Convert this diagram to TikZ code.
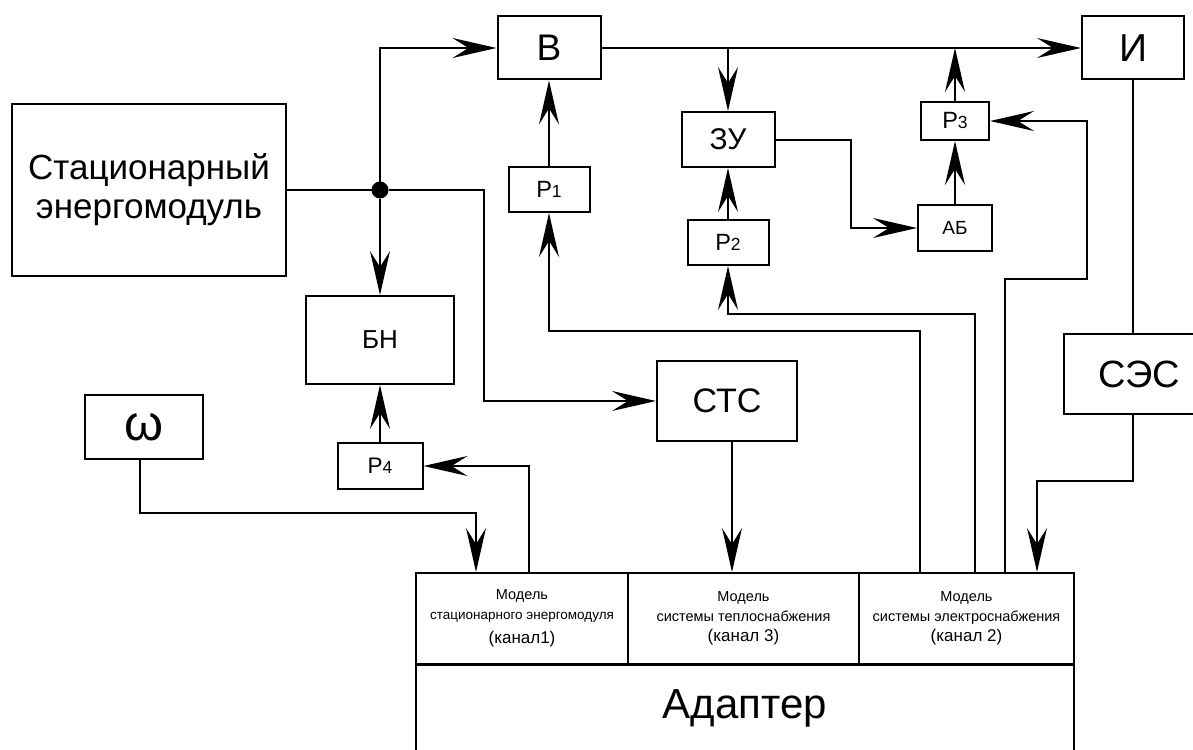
\documentclass[tikz,border=0pt]{standalone}
\usepackage{fontspec}
\setmainfont{Liberation Sans}
\usetikzlibrary{arrows.meta}
\tikzset{plain box/.style={rectangle,draw,line width=2pt,inner sep=0pt,align=center},
	model cell/.style={plain box,minimum height=91pt,font=\fontsize{14.5}{20}\selectfont},
	junction dot/.style={circle,draw,fill=black,minimum size=15pt,inner sep=0pt}}
\newcommand{\regsub}[1]{Р{\fontsize{17.5}{17.5}\selectfont #1}}

\begin{document}
\begin{tikzpicture}[x=1pt,y=-1pt,line width=2pt,>={Stealth[length=44pt,width=20pt,inset=16pt]}]

	\clip (0,0) rectangle (1193,749);

	\node (stat)	[plain box,minimum width=274pt,minimum height=172pt,font=\fontsize{35}{39}\selectfont] at (149,190) {Стационарный\\энергомодуль};
	\node (dot)	[junction dot] at (380,190) {};
	\node (B)	[plain box,minimum width=103pt,minimum height=63pt,font=\fontsize{37}{37}\selectfont] at (549,48) {В};
	\node (I)	[plain box,minimum width=102pt,minimum height=63pt,font=\fontsize{39}{39}\selectfont] at (1133,48) {И};
	\node (ZU)	[plain box,minimum width=93pt,minimum height=55pt,font=\fontsize{30}{30}\selectfont] at (728,139.5) {ЗУ};
	\node (P1)	[plain box,minimum width=81pt,minimum height=45pt,font=\fontsize{23.5}{23.5}\selectfont] at (549,189.5) {\regsub{1}};
	\node (P2)	[plain box,minimum width=81pt,minimum height=45pt,font=\fontsize{23.5}{23.5}\selectfont] at (728,242.5) {\regsub{2}};
	\node (P3)	[plain box,minimum width=68pt,minimum height=38pt,font=\fontsize{23.5}{23.5}\selectfont] at (955,121) {\regsub{3}};
	\node (AB)	[plain box,minimum width=74pt,minimum height=46pt,font=\fontsize{19}{19}\selectfont] at (955,228) {АБ};
	\node (BN)	[plain box,minimum width=148pt,minimum height=88pt,font=\fontsize{26}{26}\selectfont] at (380,340) {БН};
	\node (P4)	[plain box,minimum width=85pt,minimum height=46pt,font=\fontsize{22.5}{22.5}\selectfont] at (380,466) {\regsub{4}};
	\node (STS)	[plain box,minimum width=140pt,minimum height=80pt,font=\fontsize{34}{34}\selectfont] at (727,401) {СТС};
	\node (SES)	[plain box,minimum width=150pt,minimum height=80pt,font=\fontsize{38}{38}\selectfont] at (1139,374) {СЭС};
	\node (omega)	[plain box,minimum width=118pt,minimum height=64pt,font=\fontsize{50}{50}\selectfont] at (144,427) {ω};

	\node (cell1)	[model cell,minimum width=212pt] at (522,618.5) {Модель\\{\fontsize{13.5}{17}\selectfont стационарного энергомодуля}\\[4pt]{\fontsize{17}{20}\selectfont (канал1)}};
	\node (cell2)	[model cell,minimum width=231pt] at (743.5,618.5) {Модель\\системы теплоснабжения\\{\fontsize{17}{20}\selectfont (канал 3)}};
	\node (cell3)	[model cell,minimum width=215pt] at (966.5,618.5) {Модель\\системы электроснабжения\\{\fontsize{17}{20}\selectfont (канал 2)}};
	\node (adapter)	[plain box,minimum width=658pt,minimum height=110pt,anchor=north] at (745,664) {};
	\node (adaptertext) [anchor=base,font=\fontsize{42}{42}\selectfont] at (745,718) {Адаптер};

	\coordinate (split) at (ZU.north |- B.east);

	\draw (stat.east) -- (dot);
	\draw [->] (dot) -- ++(104,0) |- (STS.west);
	\draw [->] (dot) |- (B.west);
	\draw [->] (dot) -- (BN);
	\draw [->] (B.east) -- (I.west);
	\draw [->] (split) -- (ZU.north);
	\draw [->] (P3) -- (P3.north |- B.east);
	\draw [->] (P1) -- (B);
	\draw [->] (P2) -- (ZU);
	\draw [->] (AB) -- (P3);
	\draw [->] (ZU.east) -- ++(75,0) |- (AB.west);
	\draw [->] (P4) -- (BN);
	\draw (I.south) -- (I.south |- SES.north);
	\draw [->] (I.south |- SES.south) -- ++(0,66) -| ([xshift=-38pt]cell3.north east);
	\draw [->] ([xshift=5pt]STS.south) -- ([xshift=5pt]STS.south |- cell2.north);
	\draw [->] ([xshift=-4pt]omega.south) -- ++(0,53) -| ([xshift=61pt]cell1.north west);
	\draw [->] ([xshift=114pt]cell1.north west) |- (P4.east);
	\draw [->] ([xshift=62pt]cell3.north west) -- ++(0,-241) -| (P1.south);
	\draw [->] ([xshift=117pt]cell3.north west) -- ++(0,-258) -| (P2.south);
	\draw [->] ([xshift=147pt]cell3.north west) -- ++(0,-293) -- ++(82,0) |- (P3.east);
\end{tikzpicture}
\end{document}
